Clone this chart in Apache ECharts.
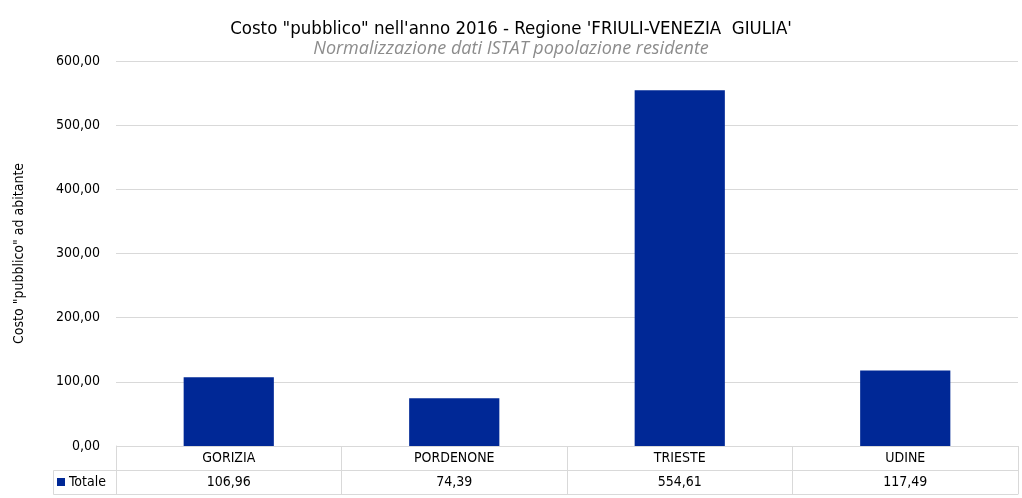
<!DOCTYPE html>
<html><head><meta charset="utf-8">
<script src="https://cdn.jsdelivr.net/npm/echarts@6/dist/echarts.min.js"></script>
<style>html,body{margin:0;padding:0;background:#fff}#c{width:1022px;height:498px}</style>
</head><body><div id="c"></div>
<script>
var categories = ['GORIZIA', 'PORDENONE', 'TRIESTE', 'UDINE'];
var values = [106.96, 74.39, 554.61, 117.49];
var seriesName = 'Totale';
var yTicks = [0, 100, 200, 300, 400, 500, 600];

var FONT = '"Liberation Sans Narrow", "DejaVu Sans Condensed", "Roboto", sans-serif';
function fmt(v){ return v.toFixed(2).replace('.', ','); }

var chart = echarts.init(document.getElementById('c'));
var tableData = categories.map(function(c, i){ return [i, c, fmt(values[i])]; });

chart.setOption({
  animation: false,
  backgroundColor: '#fff',
  textStyle: { fontFamily: FONT },
  title: [{
    text: 'Costo "pubblico" nell\'anno 2016 - Regione \'FRIULI-VENEZIA  GIULIA\'',
    left: 'center', top: 15,
    textStyle: { fontFamily: FONT, fontSize: 18.5, fontWeight: 'normal', color: '#000' },
    subtext: 'Normalizzazione dati ISTAT popolazione residente',
    subtextStyle: { fontFamily: '"Open Sans", "DejaVu Sans", sans-serif', fontSize: 18, fontStyle: 'italic', color: '#8c8c8c' },
    itemGap: 1
  }],
  legend: {
    data: [seriesName], left: 57, top: 475, itemWidth: 8, itemHeight: 8, itemGap: 4,
    icon: 'rect', padding: 0,
    textStyle: { fontFamily: FONT, fontSize: 14, color: '#000', padding: [0,0,0,-1] }
  },
  grid: [
    { left: 116, right: 4, top: 61, bottom: 52 },
    { left: 116, right: 4, top: 446, height: 48 }
  ],
  xAxis: [
    { type: 'category', gridIndex: 0, data: categories, axisLine: { show: false }, axisTick: { show: false }, axisLabel: { show: false } },
    { type: 'category', gridIndex: 1, data: categories, axisLine: { show: true, lineStyle: { color: '#d9d9d9' } }, axisTick: { show: false }, axisLabel: { show: false },
      splitLine: { show: true, lineStyle: { color: '#d9d9d9' } } }
  ],
  yAxis: [
    { type: 'value', gridIndex: 0, min: 0, max: 600, interval: 100,
      name: 'Costo "pubblico" ad abitante', nameLocation: 'middle', nameGap: 90, nameRotate: 90,
      nameTextStyle: { fontFamily: FONT, fontSize: 14, color: '#000' },
      axisLabel: { formatter: function(v){ return fmt(v); }, fontFamily: FONT, fontSize: 14, color: '#000', margin: 16 },
      axisLine: { show: false }, axisTick: { show: false },
      splitLine: { lineStyle: { color: '#d9d9d9' } } },
    { type: 'value', gridIndex: 1, min: 0, max: 2, interval: 1,
      axisLabel: { show: false }, axisLine: { show: true, lineStyle: { color: '#d9d9d9' } }, axisTick: { show: false },
      splitLine: { show: true, lineStyle: { color: '#d9d9d9' } } }
  ],
  series: [
    { name: seriesName, type: 'bar', xAxisIndex: 0, yAxisIndex: 0, data: values, barWidth: '40%',
      itemStyle: { color: '#002896' } },
    { type: 'custom', xAxisIndex: 1, yAxisIndex: 1, data: tableData, silent: true,
      renderItem: function(params, api){
        var i = api.value(0);
        var p1 = api.coord([i, 1.5]);
        var p0 = api.coord([i, 0.5]);
        var d = tableData[params.dataIndex];
        return { type: 'group', children: [
          { type: 'text', style: { text: d[1], x: p1[0], y: p1[1], align: 'center', verticalAlign: 'middle', font: '14px ' + FONT, fill: '#000' } },
          { type: 'text', style: { text: d[2], x: p0[0], y: p0[1], align: 'center', verticalAlign: 'middle', font: '14px ' + FONT, fill: '#000' } }
        ]};
      }
    }
  ],
  graphic: [
    { type: 'polyline', shape: { points: [[116, 470.5], [53.5, 470.5], [53.5, 494.5], [116, 494.5]] }, style: { stroke: '#d9d9d9', fill: null, lineWidth: 1 } }
  ]
});
</script></body></html>
